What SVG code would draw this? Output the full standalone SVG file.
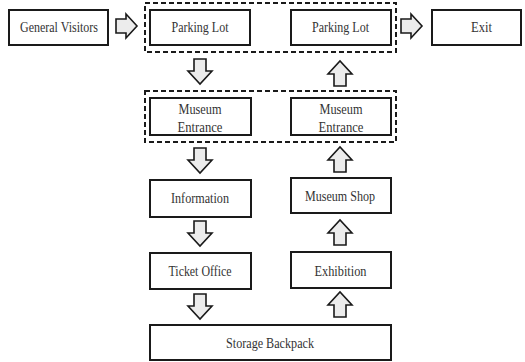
<svg xmlns="http://www.w3.org/2000/svg" width="525" height="362" viewBox="0 0 525 362">
<style>
.box{fill:#fff;stroke:#1a1a1a;stroke-width:2}
.dash{fill:none;stroke:#1a1a1a;stroke-width:2;stroke-dasharray:5 3}
.arr{fill:#ececec;stroke:#1a1a1a;stroke-width:1.6;stroke-linejoin:miter}
.t{font-family:"Liberation Serif","Times New Roman",serif;font-size:15px;fill:#333;text-anchor:middle}
.s{font-size:14.5px}
</style>
<defs>
<path id="down" d="M-6,0 H6 V12 H12 L0,25 L-12,12 H-6 Z"/>
<path id="up" d="M-6,25 H6 V13 H12 L0,0 L-12,13 H-6 Z"/>
<path id="right" d="M0,-7 H10 V-12 L21,0 L10,12 V7 H0 Z"/>
</defs>
<rect width="525" height="362" fill="#fff"/>
<g id="groups">
<rect class="dash" x="145" y="3" width="251" height="49"/>
<rect class="dash" x="145" y="91" width="251" height="51"/>
</g>
<g id="connectors">
<use href="#right" class="arr" x="116" y="26"/>
<use href="#right" class="arr" x="401" y="26"/>
<use href="#down" class="arr" x="200" y="59"/>
<use href="#up" class="arr" x="340" y="61"/>
<use href="#down" class="arr" x="200" y="148"/>
<use href="#up" class="arr" x="340" y="147"/>
<use href="#down" class="arr" x="200" y="221"/>
<use href="#up" class="arr" x="340" y="220"/>
<use href="#down" class="arr" x="200" y="294"/>
<use href="#up" class="arr" x="340" y="292"/>
</g>
<g id="general-visitors"><rect class="box" x="9" y="10" width="99" height="35"/><text class="t" x="59" y="32" textLength="78" lengthAdjust="spacingAndGlyphs">General Visitors</text></g>
<g id="parking-lot-1"><rect class="box" x="150" y="10" width="100" height="35"/><text class="t" x="200" y="32" textLength="57" lengthAdjust="spacingAndGlyphs">Parking Lot</text></g>
<g id="parking-lot-2"><rect class="box" x="291" y="10" width="100" height="35"/><text class="t" x="340.5" y="32" textLength="57" lengthAdjust="spacingAndGlyphs">Parking Lot</text></g>
<g id="exit"><rect class="box" x="432" y="10" width="89" height="35"/><text class="t" x="481.5" y="32" textLength="21" lengthAdjust="spacingAndGlyphs">Exit</text></g>
<g id="museum-entrance-1"><rect class="box" x="150" y="98" width="101" height="37"/><text class="t s" x="200" y="114" textLength="43" lengthAdjust="spacingAndGlyphs">Museum</text><text class="t s" x="200" y="131.5" textLength="45" lengthAdjust="spacingAndGlyphs">Entrance</text></g>
<g id="museum-entrance-2"><rect class="box" x="291" y="98" width="100" height="37"/><text class="t s" x="341" y="114" textLength="43" lengthAdjust="spacingAndGlyphs">Museum</text><text class="t s" x="341" y="131.5" textLength="45" lengthAdjust="spacingAndGlyphs">Entrance</text></g>
<g id="information"><rect class="box" x="150" y="180" width="101" height="37"/><text class="t" x="200" y="203" textLength="58" lengthAdjust="spacingAndGlyphs">Information</text></g>
<g id="museum-shop"><rect class="box" x="291" y="178" width="100" height="35"/><text class="t" x="340" y="201" textLength="70" lengthAdjust="spacingAndGlyphs">Museum Shop</text></g>
<g id="ticket-office"><rect class="box" x="150" y="253" width="101" height="36"/><text class="t" x="200" y="276" textLength="63" lengthAdjust="spacingAndGlyphs">Ticket Office</text></g>
<g id="exhibition"><rect class="box" x="291" y="252" width="100" height="36"/><text class="t" x="340.5" y="276" textLength="52" lengthAdjust="spacingAndGlyphs">Exhibition</text></g>
<g id="storage-backpack"><rect class="box" x="150" y="325" width="241" height="35"/><text class="t" x="270" y="348" textLength="88" lengthAdjust="spacingAndGlyphs">Storage Backpack</text></g>
</svg>
